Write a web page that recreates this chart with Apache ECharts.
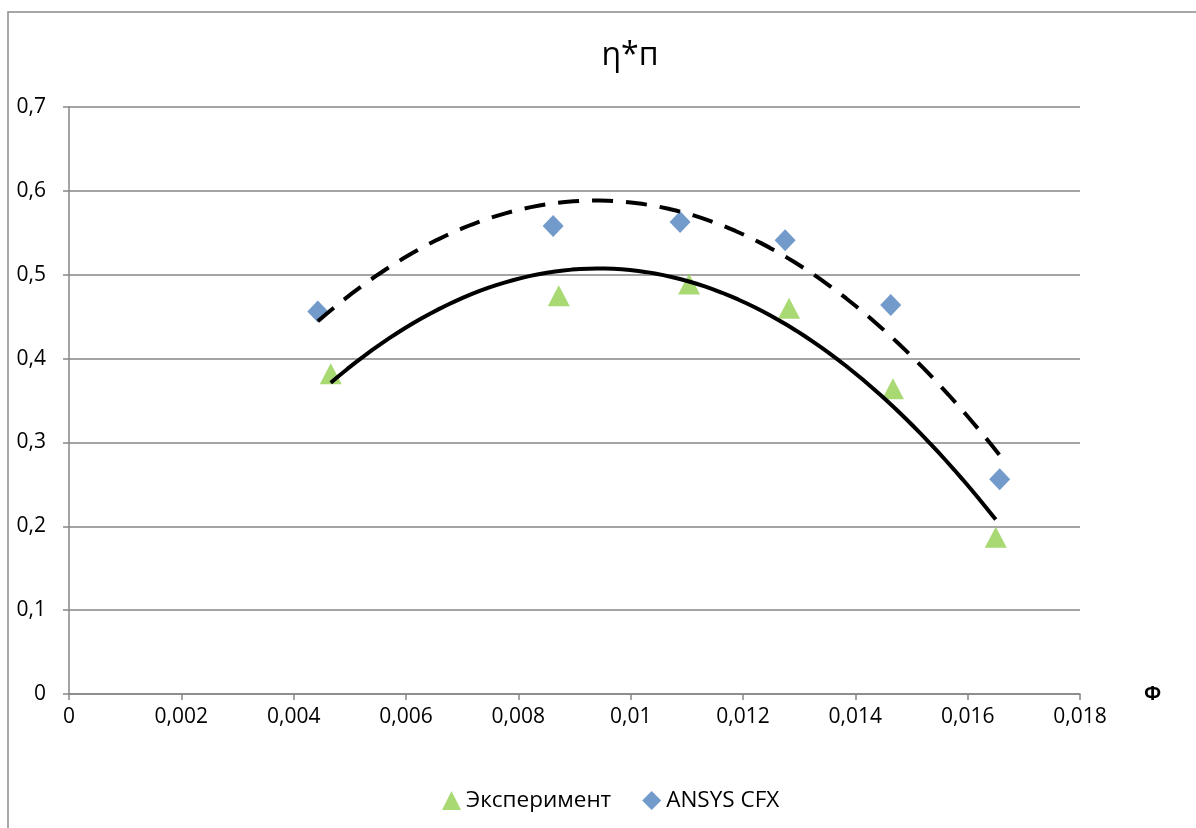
<!DOCTYPE html>
<html>
<head>
<meta charset="utf-8">
<script src="https://cdn.jsdelivr.net/npm/echarts@6/dist/echarts.min.js"></script>
<style>
html,body{margin:0;padding:0;background:#fff;}
#chart{width:1196px;height:828px;}
</style>
</head>
<body>
<div id="chart"></div>
<script>
// Scatter data
const expX = [0.00466, 0.00872, 0.01104, 0.01282, 0.01467, 0.01650];
const expY = [0.382, 0.475, 0.489, 0.460, 0.364, 0.187];
const cfxX = [0.00443, 0.00862, 0.01088, 0.01275, 0.01463, 0.01657];
const cfxY = [0.456, 0.558, 0.563, 0.541, 0.464, 0.256];

const seriesNames = ['Эксперимент', 'ANSYS CFX'];
const titleText = 'η*п';
const xAxisName = 'Φ';
const trendOrder = 2; // polynomial trendline (as in the original spreadsheet chart)

// Least-squares polynomial trendline of the scatter data
function polyFit(xs, ys, order) {
  const n = order + 1;
  const mx = xs.reduce((a, b) => a + b, 0) / xs.length;
  const sx = 1000;
  const A = Array.from({ length: n }, () => new Array(n + 1).fill(0));
  xs.forEach((x, k) => {
    const t = (x - mx) * sx;
    for (let i = 0; i < n; i++) {
      for (let j = 0; j < n; j++) A[i][j] += Math.pow(t, i + j);
      A[i][n] += Math.pow(t, i) * ys[k];
    }
  });
  for (let c = 0; c < n; c++) {
    let p = c;
    for (let r = c + 1; r < n; r++) if (Math.abs(A[r][c]) > Math.abs(A[p][c])) p = r;
    [A[c], A[p]] = [A[p], A[c]];
    for (let r = 0; r < n; r++) {
      if (r === c) continue;
      const f = A[r][c] / A[c][c];
      for (let k = c; k <= n; k++) A[r][k] -= f * A[c][k];
    }
  }
  const coef = A.map((row, i) => row[n] / row[i]);
  return x => coef.reduce((s, cf, i) => s + cf * Math.pow((x - mx) * sx, i), 0);
}
function trendData(xs, ys) {
  const f = polyFit(xs, ys, trendOrder);
  const x0 = Math.min(...xs), x1 = Math.max(...xs);
  const steps = 80, out = [];
  for (let i = 0; i <= steps; i++) {
    const x = x0 + (x1 - x0) * i / steps;
    out.push([x, f(x)]);
  }
  return out;
}

const zip = (a, b) => a.map((v, i) => [v, b[i]]);
const comma = v => String(+(+v).toFixed(4)).replace('.', ',');
const FONT = 'Open Sans';

const chart = echarts.init(document.getElementById('chart'));
chart.setOption({
  animation: false,
  backgroundColor: '#fff',
  graphic: [{
    type: 'rect',
    shape: { x: 8, y: 12, width: 2000, height: 2000 },
    style: { fill: 'none', stroke: '#8a8a8a', lineWidth: 1.5 },
    silent: true, z: -1
  }],
  title: {
    text: titleText,
    left: 625, top: 35, textAlign: 'center',
    textStyle: { fontFamily: FONT, fontSize: 32, fontWeight: 'normal', color: '#000' }
  },
  legend: {
    data: [
      { name: seriesNames[0], icon: 'triangle' },
      { name: seriesNames[1], icon: 'diamond' }
    ],
    left: 437, top: 784, itemGap: 31, itemWidth: 19, itemHeight: 19,
    textStyle: { fontFamily: FONT, fontSize: 22.5, color: '#000' }
  },
  grid: { left: 69, right: 116, top: 107, bottom: 134, containLabel: false },
  xAxis: {
    type: 'value', min: 0, max: 0.018, interval: 0.002,
    name: xAxisName, nameLocation: 'end', nameGap: 64,
    nameTextStyle: { fontFamily: FONT, fontSize: 20, fontWeight: 'bold', color: '#000', padding: [26, 0, 0, 0] },
    axisLine: { show: true, lineStyle: { color: '#868686', width: 1.5 } },
    axisTick: { show: true, inside: false, length: 6, lineStyle: { color: '#868686', width: 1.5 } },
    axisLabel: { formatter: comma, margin: 13, fontFamily: FONT, fontSize: 21, color: '#000' },
    splitLine: { show: false }
  },
  yAxis: {
    type: 'value', min: 0, max: 0.7, interval: 0.1,
    axisLine: { show: true, lineStyle: { color: '#868686', width: 1.5 } },
    axisTick: { show: true, inside: false, length: 6, lineStyle: { color: '#868686', width: 1.5 } },
    axisLabel: { formatter: comma, margin: 23, fontFamily: FONT, fontSize: 21, color: '#000' },
    splitLine: { show: true, lineStyle: { color: '#868686', width: 1.5 } }
  },
  series: [
    {
      name: seriesNames[0], type: 'scatter', data: zip(expX, expY),
      symbol: 'triangle', symbolSize: [22, 21],
      itemStyle: { color: '#92D050' }, z: 2
    },
    {
      name: seriesNames[1], type: 'scatter', data: zip(cfxX, cfxY),
      symbol: 'diamond', symbolSize: [21, 22],
      itemStyle: { color: '#4F81BD' }, z: 2
    },
    {
      name: 'trend1', type: 'line', data: trendData(expX, expY),
      smooth: false, showSymbol: false, symbol: 'none',
      lineStyle: { color: '#000', width: 4 }, z: 3, silent: true
    },
    {
      name: 'trend2', type: 'line', data: trendData(cfxX, cfxY),
      smooth: false, showSymbol: false, symbol: 'none',
      lineStyle: { color: '#000', width: 4, type: [21, 13], cap: 'butt' }, z: 3, silent: true
    }
  ]
});
</script>
</body>
</html>
